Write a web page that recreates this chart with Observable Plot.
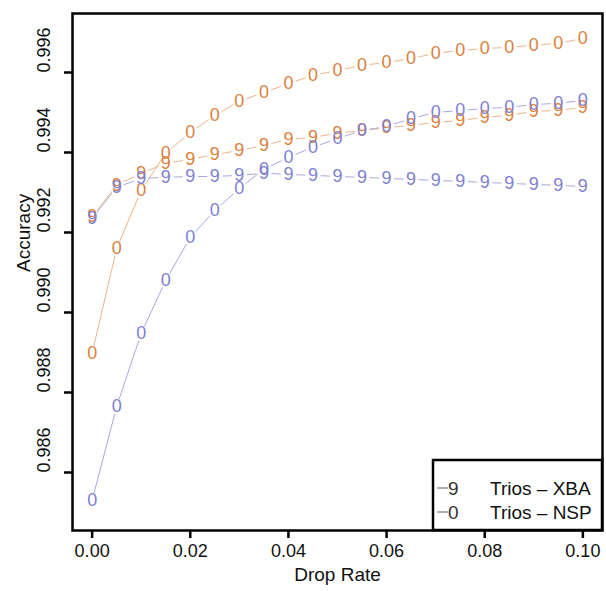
<!DOCTYPE html>
<html><head><meta charset="utf-8">
<script src="https://cdn.jsdelivr.net/npm/d3@7"></script>
<script src="https://cdn.jsdelivr.net/npm/@observablehq/plot@0.6"></script>
<style>body{margin:0;background:#fff}</style>
</head><body><div id="chart"></div>
<script>
const dropRate = [0,0.005,0.01,0.015,0.02,0.025,0.03,0.035,0.04,0.045,0.05,0.055,0.06,0.065,0.07,0.075,0.08,0.085,0.09,0.095,0.1];
const orangeNSP = [0.98898,0.99160,0.99305,0.99398,0.99450,0.99493,0.99528,0.99550,0.99572,0.99593,0.99605,0.99618,0.99625,0.99635,0.99648,0.99655,0.99660,0.99663,0.99668,0.99673,0.99685];
const orangeXBA = [0.99240,0.99318,0.99348,0.99373,0.99383,0.99395,0.99405,0.99418,0.99433,0.99438,0.99448,0.99455,0.99462,0.99468,0.99475,0.99480,0.99488,0.99493,0.99503,0.99505,0.99513];
const blueNSP = [0.98530,0.98765,0.98948,0.99080,0.99188,0.99255,0.99310,0.99358,0.99388,0.99413,0.99435,0.99455,0.99465,0.99485,0.99500,0.99505,0.99510,0.99513,0.99520,0.99523,0.99530];
const blueXBA = [0.99235,0.99313,0.99335,0.99338,0.99340,0.99340,0.99343,0.99348,0.99345,0.99343,0.99340,0.99338,0.99335,0.99333,0.99330,0.99328,0.99325,0.99323,0.99320,0.99318,0.99315];
const xTicks = [0,0.02,0.04,0.06,0.08,0.1];
const yTicks = [0.986,0.988,0.990,0.992,0.994,0.996];
const legendGlyphs = ["9","0"];
const legendLabels = ["Trios \u2013 XBA","Trios \u2013 NSP"];

const ORANGE = "#dc7f3c", ORANGE_LINE = "#eeb48a";
const BLUE = "#7f7fd2", BLUE_LINE = "#a8a8de";
const FONT = "'Liberation Sans', Arial, Helvetica, sans-serif";

const series = [
  {glyph:"0", values: orangeNSP, fill: ORANGE, line: ORANGE_LINE},
  {glyph:"9", values: orangeXBA, fill: ORANGE, line: ORANGE_LINE},
  {glyph:"0", values: blueNSP, fill: BLUE, line: BLUE_LINE},
  {glyph:"9", values: blueXBA, fill: BLUE, line: BLUE_LINE}
];
const points = series.flatMap(s => dropRate.map((x,i) => ({x, y: s.values[i], glyph: s.glyph, fill: s.fill})));
const segments = series.flatMap(s => dropRate.slice(1).map((x,i) => ({x1: dropRate[i], y1: s.values[i], x2: x, y2: s.values[i+1], line: s.line})));

const W = 606, H = 591, ML = 72, MR = 4, MT = 13, MB = 61;

const chart = Plot.plot({
  width: W, height: H,
  marginLeft: ML, marginRight: MR, marginTop: MT, marginBottom: MB,
  style: {fontFamily: FONT, background: "#fff", color: "#000"},
  x: {domain: [-0.004, 0.104]},
  y: {domain: [0.98455, 0.997475]},
  color: {type: "identity"},
  marks: [
    Plot.arrow(segments, {x1: "x1", y1: "y1", x2: "x2", y2: "y2", stroke: "line", strokeWidth: 1, headLength: 0, insetStart: 8, insetEnd: 8, bend: 0}),
    Plot.text(points, {x: "x", y: "y", text: "glyph", fill: "fill", fontSize: 18}),
    Plot.frame({stroke: "#000", strokeWidth: 2.5}),
    Plot.axisX({ticks: xTicks, tickSize: 8, tickFormat: () => "", strokeWidth: 2.5, label: null}),
    Plot.axisY({ticks: yTicks, tickSize: 8, tickFormat: () => "", strokeWidth: 2.5, label: null}),
    Plot.text(xTicks, {x: d => d, frameAnchor: "bottom", dy: 26, text: d => d3.format(".2f")(d), fontSize: 18, fill: "#111"}),
    Plot.text(yTicks, {y: d => d, frameAnchor: "left", dx: -28, rotate: -90, text: d => d3.format(".3f")(d), fontSize: 18, fill: "#111"}),
    Plot.text(["Drop Rate"], {frameAnchor: "bottom", dy: 50, fontSize: 19, fill: "#111"}),
    Plot.text(["Accuracy"], {frameAnchor: "left", dx: -49, rotate: -90, fontSize: 19, fill: "#111"})
  ]
});
document.getElementById("chart").appendChild(chart);

// legend (bottom-right, touching the frame)
const svg = d3.select(chart);
const fr = W - MR, fb = H - MB;
const lx = 433, ly = 460;
const g = svg.append("g").attr("font-family", FONT).attr("font-size", 19);
g.append("rect").attr("x", lx).attr("y", ly).attr("width", fr - lx).attr("height", fb - ly)
  .attr("fill", "#fff").attr("stroke", "#000").attr("stroke-width", 2.5);
legendLabels.forEach((lab, i) => {
  const cy = 488 + i * 24;
  g.append("line").attr("x1", lx + 4).attr("x2", lx + 15).attr("y1", cy).attr("y2", cy).attr("stroke", "#777").attr("stroke-width", 1.2);
  g.append("text").attr("x", lx + 15).attr("y", cy).attr("dy", "0.35em").attr("text-anchor", "start").attr("fill", "#333").text(legendGlyphs[i]);
  g.append("text").attr("x", 490).attr("y", cy).attr("dy", "0.35em").attr("text-anchor", "start").attr("fill", "#111").text(lab);
});
</script>
</body></html>
